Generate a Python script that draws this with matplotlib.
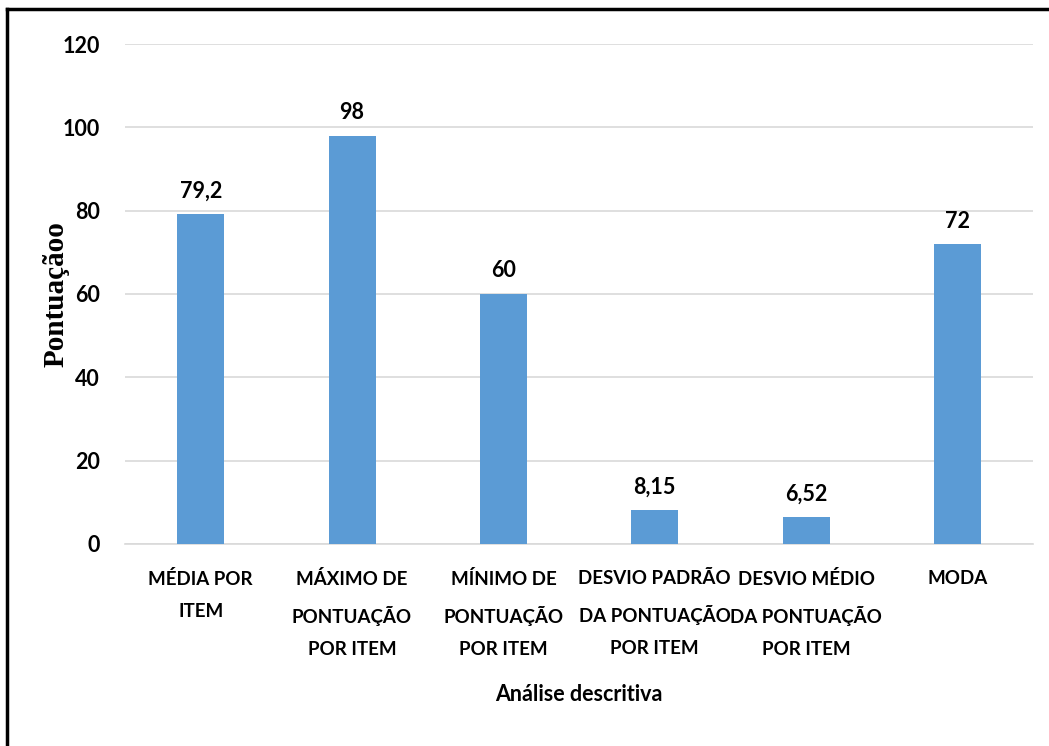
import matplotlib.pyplot as plt
import numpy as np

categorias = ["MÉDIA POR\nITEM", "MÁXIMO DE\nPONTUAÇÃO\nPOR ITEM", "MÍNIMO DE\nPONTUAÇÃO\nPOR ITEM",
              "DESVIO PADRÃO\nDA PONTUAÇÃO\nPOR ITEM", "DESVIO MÉDIO\nDA PONTUAÇÃO\nPOR ITEM", "MODA"]
valores = [79.2, 98, 60, 8.15, 6.52, 72]
rotulos = ["79,2", "98", "60", "8,15", "6,52", "72"]
yticks = [0, 20, 40, 60, 80, 100, 120]

plt.rcParams['font.family'] = ['Lato', 'DejaVu Sans']

fig = plt.figure(figsize=(10.49, 7.46), dpi=100)
ax = fig.add_axes([0.1192, 0.2708, 0.8656, 0.6702])

x = np.arange(len(categorias))
ax.bar(x, valores, width=0.31, color="#5b9bd5", zorder=3)

for xi, v, r in zip(x, valores, rotulos):
    ax.annotate(r, (xi, v), xytext=(0, 9), textcoords="offset points",
                ha="center", va="bottom", fontsize=15.5, fontweight="bold")

ax.set_xlim(-0.5, len(categorias) - 0.5)
ax.set_ylim(0, 120)
ax.set_yticks(yticks)
ax.set_yticklabels([str(t) for t in yticks], fontsize=15.5, fontweight="bold")
ax.set_xticks(x)
ax.set_xticklabels(categorias, fontsize=13.5, fontweight="bold", linespacing=2.05, va="top")
ax.tick_params(length=0)
ax.tick_params(axis="y", pad=18)
ax.tick_params(axis="x", pad=19)

ax.grid(axis="y", color="#d9d9d9", linewidth=1.2, zorder=0)
for s in ["top", "right", "left"]:
    ax.spines[s].set_visible(False)
ax.spines["bottom"].set_color("#d9d9d9")
ax.spines["bottom"].set_linewidth(1.2)

ax.set_xlabel("Análise descritiva", fontsize=15.5, fontweight="bold", labelpad=19)
ax.set_ylabel("Pontuaçãoo", fontsize=21, fontweight="bold", family="Liberation Serif", va="center")
ax.yaxis.set_label_coords(-0.076, 0.5)

# moldura: só esquerda e topo
fig.add_artist(plt.Line2D([0.0062, 0.0062], [0, 0.988], color="black", linewidth=2.5, transform=fig.transFigure))
fig.add_artist(plt.Line2D([0.0062, 1], [0.988, 0.988], color="black", linewidth=2.5, transform=fig.transFigure))

fig.savefig("out.png", dpi=100)
